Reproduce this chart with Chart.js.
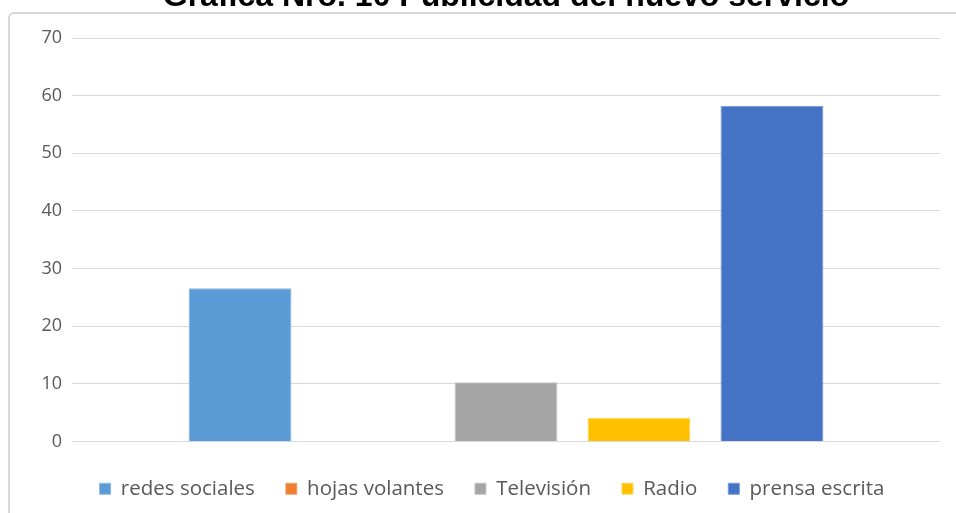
<!DOCTYPE html>
<html>
<head>
<meta charset="utf-8">
<script src="https://cdn.jsdelivr.net/npm/chart.js@4"></script>
<style>
  html, body { margin: 0; padding: 0; background: #fff; overflow: hidden; }
  #wrap { position: relative; width: 956px; height: 513px; overflow: hidden; }
  #frame {
    position: absolute; left: 8px; top: 12px; width: 1000px; height: 560px;
    border: 2px solid #d9d9d9; border-radius: 6px; box-sizing: border-box;
  }
  #chart { position: absolute; left: 0; top: 0; }
</style>
</head>
<body>
<div id="wrap">
  <div id="frame"></div>
  <canvas id="chart" width="956" height="513"></canvas>
</div>
<script>
const chartTitle = 'Grafica Nro. 10 Publicidad del nuevo servicio';
const medios = ['redes sociales', 'hojas volantes', 'Televisión', 'Radio', 'prensa escrita'];
const porcentajes = [26.6, 0, 10.3, 4.1, 58.2];
const colores = ['#5B9BD5', '#ED7D31', '#A5A5A5', '#FFC000', '#4472C4'];
const bordes = ['#8DB9E3', '#F2A46F', '#C4C4C4', '#FFD760', '#7A9BD6'];

// title sits above the frame, partly cut off at the top edge
const titlePlugin = {
  id: 'topTitle',
  afterDraw(chart) {
    const ctx = chart.ctx;
    ctx.save();
    ctx.font = 'bold 32px "Liberation Sans", Arial, sans-serif';
    ctx.fillStyle = '#000';
    ctx.textAlign = 'center';
    ctx.textBaseline = 'alphabetic';
    ctx.fillText(chartTitle, 506, 6);
    ctx.restore();
  }
};

// center the legend under the plot area instead of the whole canvas
const legendShift = {
  id: 'legendShift',
  afterLayout(chart) {
    const lg = chart.legend;
    if (lg) { lg.left += 22; lg.right += 22; }
  }
};

const ctx = document.getElementById('chart').getContext('2d');
new Chart(ctx, {
  type: 'bar',
  data: {
    labels: [''],
    datasets: medios.map((m, i) => ({
      label: m,
      data: [porcentajes[i]],
      backgroundColor: colores[i],
      borderColor: bordes[i],
      borderWidth: 1,
      categoryPercentage: 0.766,
      barPercentage: 0.774
    }))
  },
  options: {
    responsive: false,
    animation: false,
    layout: { padding: { top: 38, right: 16, bottom: 4, left: 0 } },
    plugins: {
      title: { display: false },
      tooltip: { enabled: false },
      legend: {
        position: 'bottom',
        maxHeight: 66,
        labels: {
          boxWidth: 11,
          boxHeight: 11,
          padding: 31,
          color: '#595959',
          font: { family: '"Open Sans", sans-serif', size: 20.5 }
        }
      }
    },
    scales: {
      x: {
        grid: { display: false },
        border: { display: false },
        ticks: { display: false },
        afterFit(s) { s.height = 6; }
      },
      y: {
        min: 0,
        max: 70,
        ticks: {
          stepSize: 10,
          padding: 10,
          color: '#595959',
          font: { family: '"Open Sans", sans-serif', size: 18 }
        },
        grid: { color: '#d9d9d9', lineWidth: 1, drawTicks: false },
        border: { display: false },
        afterFit(s) { s.width = 72; }
      }
    }
  },
  plugins: [titlePlugin, legendShift]
});
</script>
</body>
</html>
